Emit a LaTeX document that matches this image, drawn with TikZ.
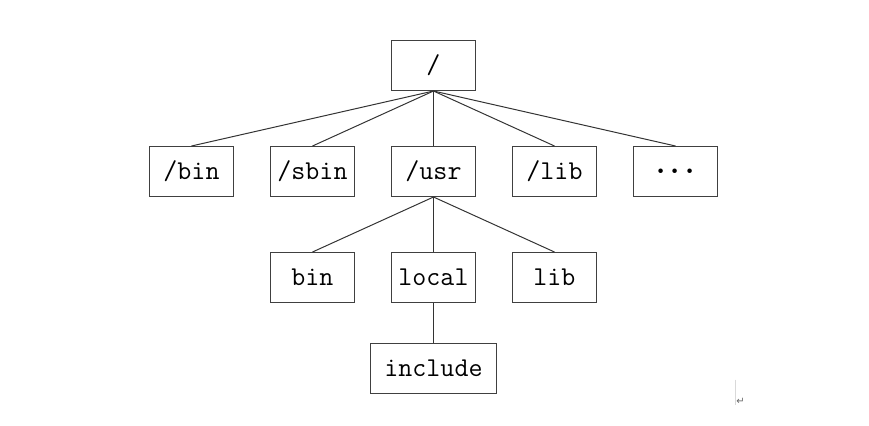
\documentclass[tikz,border=0pt]{standalone}
\usepackage{fontspec}
\newfontfamily\markfont{DejaVu Sans}
\usetikzlibrary{matrix, positioning, calc}
\tikzset{
   dirbox/.style={draw=black!75, line width=.5pt, minimum height=25pt, minimum width=42pt, inner sep=0pt},
   widebox/.style={dirbox, minimum width=63pt},
   dirline/.style={draw=black!80, line width=.5pt}
}
\newcommand{\moredirs}{{\boldmath$\cdots$}}

\begin{document}
\begin{tikzpicture}[every node/.style={font=\fontsize{13.6}{16}\selectfont\ttfamily}]
      \matrix (tree) [
          matrix of nodes,
          nodes={dirbox, anchor=center},
          row sep={53pt,between origins}, column sep={60.5pt,between origins},
          ampersand replacement=\&
      ]{
             \&       \& /       \&      \&           \\
        /bin \& /sbin \& /usr    \& /lib \& \moredirs \\
             \& bin   \& local   \& lib  \&           \\[-7.75pt]
             \&       \& |[widebox]| include \& \&    \\
      };
      % root to first level
      \foreach \c in {1,...,5}
        \draw[dirline] (tree-1-3.south) -- (tree-2-\c.north);
      % /usr to its children
      \foreach \c in {2,3,4}
        \draw[dirline] (tree-2-3.south) -- (tree-3-\c.north);
      \draw[dirline] (tree-3-3.south) -- (tree-4-3.north);
      % paragraph mark
      \coordinate (mark) at ($(tree-1-3.center)+(151pt,-157pt)$);
      \draw[black!15, line width=.4pt] (mark) -- ++(0,-12.5pt);
      \node[font=\markfont\fontsize{5}{6}\selectfont, text=black!60, inner sep=0pt] (pmark) at ($(mark)+(2.5pt,-11pt)$) {↵};
      \path[use as bounding box] ($(tree-1-3.center)+(-216.75pt,32.75pt)$) rectangle ++(434.5pt,-212.5pt);
\end{tikzpicture}
\end{document}
